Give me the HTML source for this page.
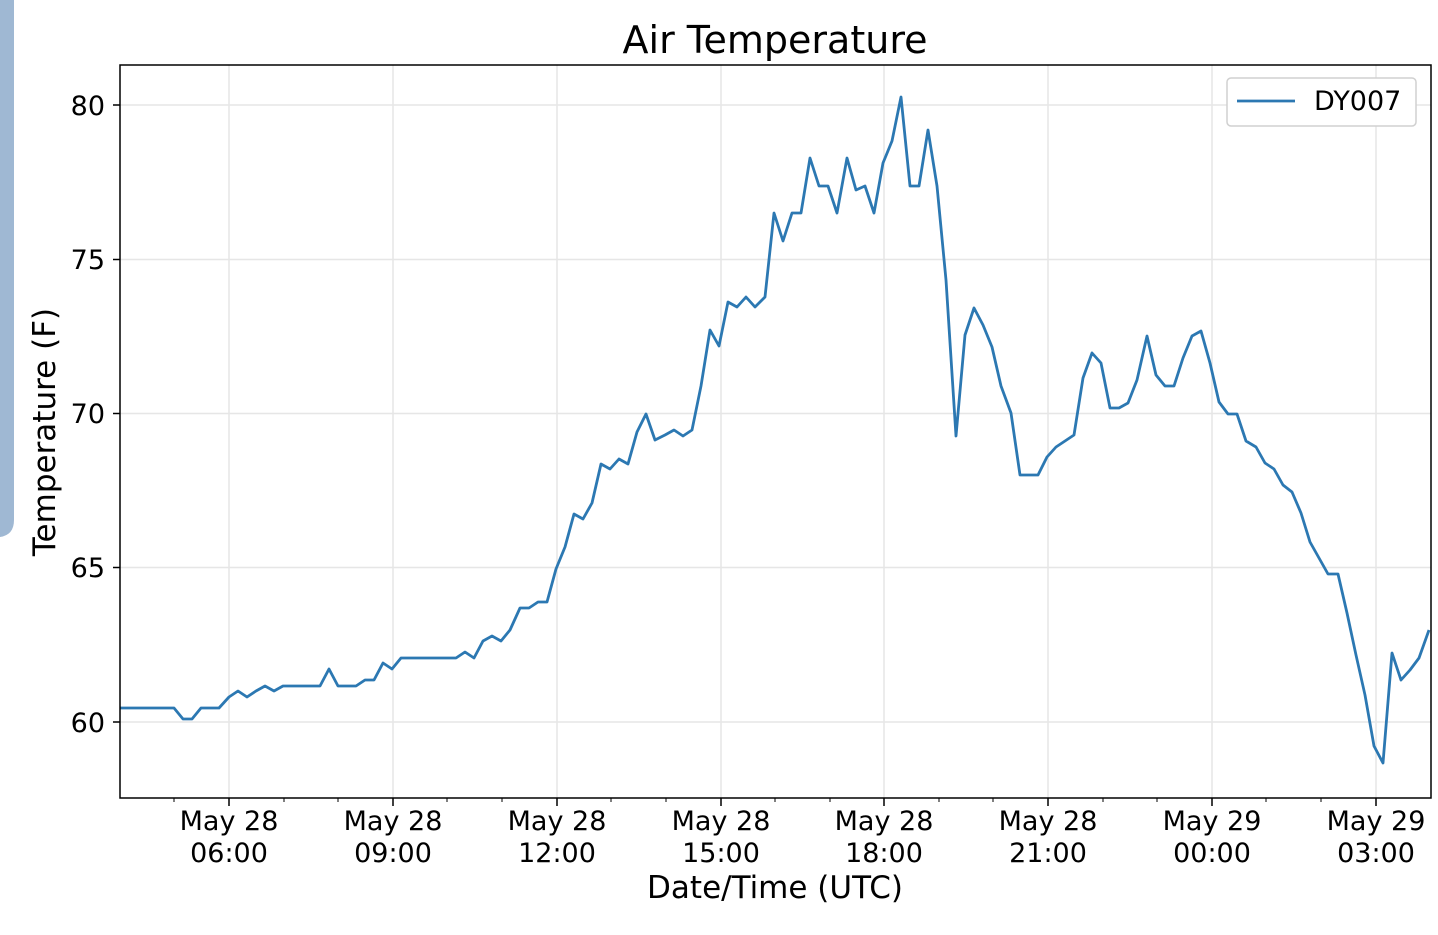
<!DOCTYPE html>
<html><head><meta charset="utf-8"><style>
html,body{margin:0;padding:0;background:#fff;width:1438px;height:935px;overflow:hidden}
</style></head><body>
<svg width="1438" height="935" viewBox="0 0 1438 935" xmlns="http://www.w3.org/2000/svg" font-family="DejaVu Sans, Liberation Sans, sans-serif">
<path d="M0 0 H14 V520 Q14 535 0 537 Z" fill="#9fb8d3"/>
<g stroke="#e6e6e6" stroke-width="1.5">
<line x1="120" x2="1431" y1="105" y2="105"/><line x1="120" x2="1431" y1="259.5" y2="259.5"/><line x1="120" x2="1431" y1="413.5" y2="413.5"/><line x1="120" x2="1431" y1="567.5" y2="567.5"/><line x1="120" x2="1431" y1="722" y2="722"/>
<line y1="65" y2="798" x1="229" x2="229"/><line y1="65" y2="798" x1="393" x2="393"/><line y1="65" y2="798" x1="557" x2="557"/><line y1="65" y2="798" x1="721" x2="721"/><line y1="65" y2="798" x1="884" x2="884"/><line y1="65" y2="798" x1="1048" x2="1048"/><line y1="65" y2="798" x1="1212" x2="1212"/><line y1="65" y2="798" x1="1376" x2="1376"/>
</g>
<polyline fill="none" stroke="#2c78b2" stroke-width="2.8" stroke-linejoin="round" points="120,708 174,708 183,719 192,719 201,708 219,708 229,697 238,691 247,697 256,691 265,686 274,691 283,686 320,686 329,669 338,686 356,686 365,680 374,680 383,663 392,669 401,658 456,658 465,652 474,658 483,641 492,636 501,641 510,630 520,608 529,608 538,602 547,602 556,569 565,547 574,514 583,519 592,503 601,464 610,469 619,459 628,464 637,432 646,414 655,440 665,435 674,430 683,436 692,430 701,386 710,330 719,346 728,302 737,307 746,297 755,307 765,297 774,213 783,241 792,213 801,213 810,158 819,186 828,186 837,213 847,158 856,190 865,186 874,213 883,163 892,141 901,97 910,186 919,186 928,130 937,186 946,280 956,436 965,335 974,308 983,325 992,347 1001,386 1011,413 1020,475 1029,475 1038,475 1047,457 1056,447 1065,441 1074,435 1083,378 1092,353 1101,363 1110,408 1119,408 1128,403 1137,380 1147,336 1156,375 1165,386 1174,386 1183,358 1192,336 1201,331 1210,363 1219,402 1228,414 1237,414 1246,441 1256,447 1265,463 1274,469 1283,485 1292,492 1301,513 1310,542 1319,558 1328,574 1338,574 1347,613 1356,655 1365,695 1374,746 1383,763 1392,653 1401,680 1410,670 1419,658 1429,630"/>
<rect x="120" y="65" width="1311" height="733" fill="none" stroke="#000" stroke-width="1.5"/>
<g stroke="#000" stroke-width="1.5">
<line x1="113" x2="120" y1="105" y2="105"/><line x1="113" x2="120" y1="259.5" y2="259.5"/><line x1="113" x2="120" y1="413.5" y2="413.5"/><line x1="113" x2="120" y1="567.5" y2="567.5"/><line x1="113" x2="120" y1="722" y2="722"/>
<line y1="798" y2="806" x1="229" x2="229"/><line y1="798" y2="806" x1="393" x2="393"/><line y1="798" y2="806" x1="557" x2="557"/><line y1="798" y2="806" x1="721" x2="721"/><line y1="798" y2="806" x1="884" x2="884"/><line y1="798" y2="806" x1="1048" x2="1048"/><line y1="798" y2="806" x1="1212" x2="1212"/><line y1="798" y2="806" x1="1376" x2="1376"/>
</g>
<g stroke="#000" stroke-width="1">
<line y1="798" y2="802" x1="174" x2="174"/><line y1="798" y2="802" x1="284" x2="284"/><line y1="798" y2="802" x1="338" x2="338"/><line y1="798" y2="802" x1="447" x2="447"/><line y1="798" y2="802" x1="502" x2="502"/><line y1="798" y2="802" x1="611" x2="611"/><line y1="798" y2="802" x1="666" x2="666"/><line y1="798" y2="802" x1="775" x2="775"/><line y1="798" y2="802" x1="830" x2="830"/><line y1="798" y2="802" x1="939" x2="939"/><line y1="798" y2="802" x1="993" x2="993"/><line y1="798" y2="802" x1="1103" x2="1103"/><line y1="798" y2="802" x1="1157" x2="1157"/><line y1="798" y2="802" x1="1266" x2="1266"/><line y1="798" y2="802" x1="1321" x2="1321"/>
</g>
<g font-size="27" fill="#000" text-anchor="end">
<text x="105" y="115">80</text><text x="105" y="269">75</text><text x="105" y="423">70</text><text x="105" y="577">65</text><text x="105" y="732">60</text>
</g>
<g font-size="27" fill="#000" text-anchor="middle">
<text x="229" y="830">May 28</text><text x="229" y="862">06:00</text>
<text x="393" y="830">May 28</text><text x="393" y="862">09:00</text>
<text x="557" y="830">May 28</text><text x="557" y="862">12:00</text>
<text x="721" y="830">May 28</text><text x="721" y="862">15:00</text>
<text x="884" y="830">May 28</text><text x="884" y="862">18:00</text>
<text x="1048" y="830">May 28</text><text x="1048" y="862">21:00</text>
<text x="1212" y="830">May 29</text><text x="1212" y="862">00:00</text>
<text x="1376" y="830">May 29</text><text x="1376" y="862">03:00</text>
<text x="775" y="53" font-size="38">Air Temperature</text>
<text x="775" y="898" font-size="31">Date/Time (UTC)</text>
<text transform="translate(55 432) rotate(-90)" font-size="31">Temperature (F)</text>
</g>
<rect x="1227" y="78" width="189" height="48" rx="4" fill="#fff" stroke="#d0d0d0" stroke-width="1.5"/>
<line x1="1237" x2="1295" y1="101" y2="101" stroke="#2c78b2" stroke-width="2.8"/>
<text x="1314" y="110" font-size="27" fill="#000">DY007</text>
</svg>
</body></html>
